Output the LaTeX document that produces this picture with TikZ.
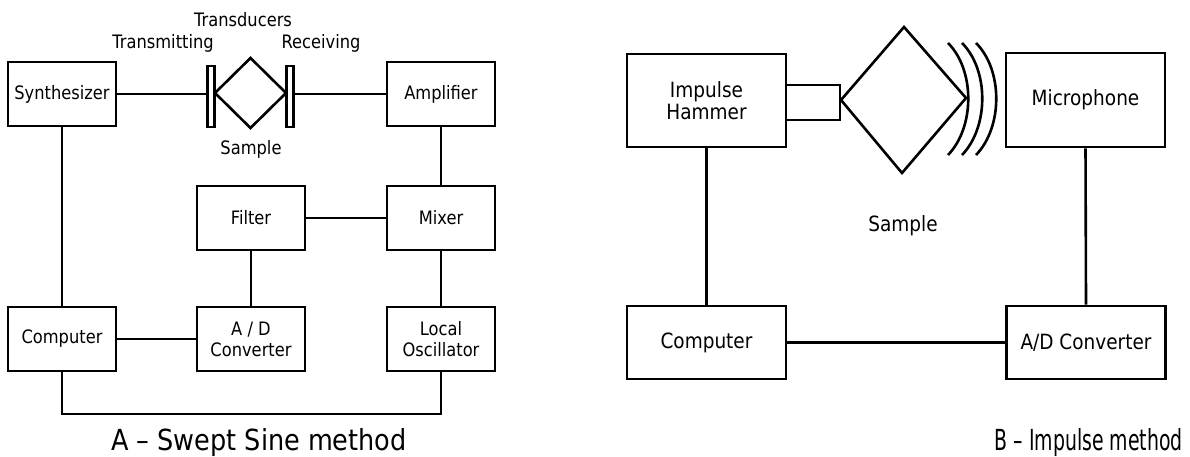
\documentclass[tikz,border=0pt]{standalone}
\usepackage{graphicx}
\usepackage{fontspec}
\setmainfont{DejaVu Sans}[FakeStretch=0.88]
\begin{document}
\begin{tikzpicture}[x=1pt,y=-1pt,
  line width=2.6pt,
  txtA/.style={font=\fontsize{18.5}{21}\selectfont},
  txtB/.style={font=\fontsize{21}{22}\selectfont},
  boxA/.style={draw,rectangle,txtA,minimum width=108pt,minimum height=64pt,inner sep=0pt,align=center},
  boxB/.style={draw,rectangle,txtB,inner sep=0pt,align=center},
  trans/.style={draw,fill=white,rectangle,minimum width=7pt,minimum height=61pt,inner sep=0pt},
  captionA/.style={font=\fontsize{29}{30}\selectfont,inner sep=0pt},
  wire/.style={line width=2.6pt}]
\useasboundingbox (0,0) rectangle (1190,457);

% ---------- Panel A ----------
\node[boxA] (synth) at (62,94) {Synthesizer};
\node[boxA] (amp) at (441,94) {Amplifier};
\node[boxA] (filter) at (251,218) {Filter};
\node[boxA] (mixer) at (441,218) {Mixer};
\node[boxA] (compA) at (62,339) {Computer};
\node[boxA] (adA) at (251,339) {A / D\\Converter};
\node[boxA] (lo) at (441,339) {Local\\Oscillator};

\coordinate (dl) at (215,93);
\coordinate (dt) at (250.5,58);
\coordinate (dr) at (286,93);
\coordinate (db) at (250.5,128);
\draw (dl) -- (dt) -- (dr) -- (db) -- cycle;
\node[trans] (tx) at (211,96.5) {};
\node[trans] (rx) at (290,96.5) {};

\node[txtA] (tlab) at (243,20) {Transducers};
\node[txtA] (tmlab) at (163,43) {Transmitting};
\node[txtA] (rclab) at (321,43) {Receiving};
\node[txtA] (smA) at (251,149) {Sample};

\draw[wire] (synth.east) -- (synth.east -| tx.west);
\draw[wire] (rx.east |- amp.west) -- (amp.west);
\draw[wire] (synth.south) -- (compA.north);
\draw[wire] (amp.south) -- (mixer.north);
\draw[wire] (filter.east) -- (mixer.west);
\draw[wire] (filter.south) -- (adA.north);
\draw[wire] (mixer.south) -- (lo.north);
\draw[wire] (compA.east) -- (adA.west);
\coordinate (bl) at (62,414);
\draw[wire] (compA.south) -- (compA.south |- bl) -| (lo.south);

\node[captionA] (capA) at (259,442) {A – Swept Sine method};

% ---------- Panel B ----------
\node[boxB,minimum width=159pt,minimum height=93pt] (ham) at (706.5,100.5) {Impulse\\Hammer};
\node[boxB,minimum width=159pt,minimum height=94pt] (mic) at (1085.5,100) {Microphone};
\node[boxB,minimum width=159pt,minimum height=73pt] (compB) at (706.5,342.5) {Computer};
\node[boxB,minimum width=159pt,minimum height=73pt] (adB) at (1086,342.5) {A/D Converter};
\node[draw,rectangle,minimum width=54pt,minimum height=35pt,inner sep=0pt] (head) at (813,102.5) {};

\coordinate (bl2) at (841,100);
\coordinate (bt2) at (904,27);
\coordinate (br2) at (966,98);
\coordinate (bb2) at (902,173);
\draw (bl2) -- (bt2) -- (br2) -- (bb2) -- cycle;

\foreach \dx in {0,14,28}{
  \draw (948+\dx,43) .. controls (975+\dx,70) and (975+\dx,127) .. (948+\dx,155);
}

\node[txtB] (smB) at (903,226) {Sample};

\draw[wire] (ham.south) -- (compB.north);
\draw[wire] (mic.south) -- (adB.north);
\draw[wire] (compB.east) -- (adB.west);

\node[captionA,anchor=east] (capB) at (1184,442) {\scalebox{0.74}[1]{B – Impulse method}};
\end{tikzpicture}
\end{document}
